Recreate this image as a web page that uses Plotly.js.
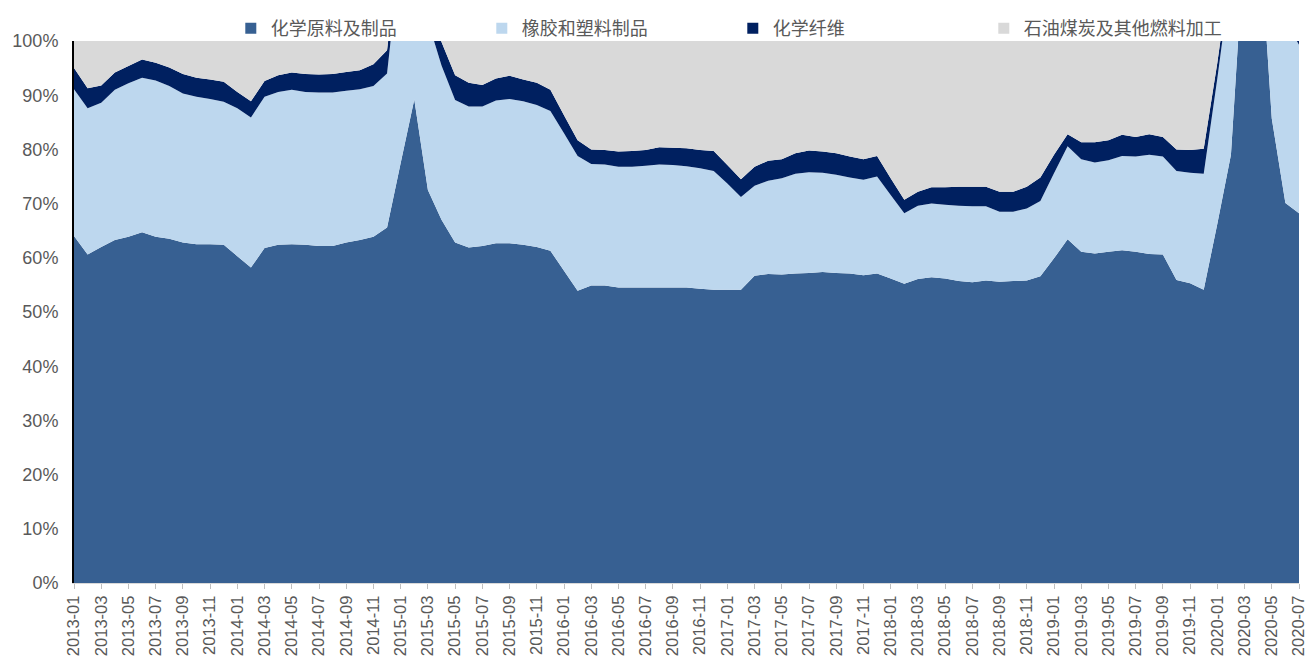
<!DOCTYPE html>
<html>
<head>
<meta charset="utf-8">
<script src="https://cdn.plot.ly/plotly-3.0.1.min.js"></script>
<style>html,body{margin:0;padding:0;background:#fff;}#chart{width:1308px;height:664px;}</style>
</head>
<body>
<div id="chart"></div>
<script>
const months = [
"2013-01","2013-02","2013-03","2013-04","2013-05","2013-06","2013-07","2013-08","2013-09","2013-10","2013-11","2013-12",
"2014-01","2014-02","2014-03","2014-04","2014-05","2014-06","2014-07","2014-08","2014-09","2014-10","2014-11","2014-12",
"2015-01","2015-02","2015-03","2015-04","2015-05","2015-06","2015-07","2015-08","2015-09","2015-10","2015-11","2015-12",
"2016-01","2016-02","2016-03","2016-04","2016-05","2016-06","2016-07","2016-08","2016-09","2016-10","2016-11","2016-12",
"2017-01","2017-02","2017-03","2017-04","2017-05","2017-06","2017-07","2017-08","2017-09","2017-10","2017-11","2017-12",
"2018-01","2018-02","2018-03","2018-04","2018-05","2018-06","2018-07","2018-08","2018-09","2018-10","2018-11","2018-12",
"2019-01","2019-02","2019-03","2019-04","2019-05","2019-06","2019-07","2019-08","2019-09","2019-10","2019-11","2019-12",
"2020-01","2020-02","2020-03","2020-04","2020-05","2020-06","2020-07"];

// 化学原料及制品
const chemRaw = [64.0,60.6,62.0,63.3,63.9,64.7,63.9,63.5,62.8,62.5,62.5,62.4,
60.3,58.2,61.8,62.4,62.5,62.4,62.2,62.2,62.8,63.3,63.9,65.6,
77.5,89.2,72.5,67.0,62.8,61.9,62.2,62.7,62.7,62.4,62.0,61.3,
57.6,53.9,54.9,54.9,54.5,54.5,54.5,54.5,54.5,54.5,54.3,54.1,
54.1,54.1,56.7,57.0,56.9,57.1,57.2,57.4,57.2,57.1,56.8,57.1,
56.2,55.2,56.1,56.4,56.2,55.7,55.5,55.8,55.6,55.7,55.8,56.6,
59.9,63.4,61.1,60.8,61.1,61.4,61.1,60.7,60.6,55.9,55.3,54.1,
66.3,79.0,119.0,124.0,85.7,70.1,68.2];
// 橡胶和塑料制品
const rubber = [27.1,27.0,26.6,27.7,28.3,28.5,28.8,28.2,27.5,27.2,26.8,26.4,
27.3,27.7,27.9,28.2,28.5,28.2,28.3,28.3,28.0,27.8,27.8,28.4,
39.5,20.8,31.2,28.5,26.3,26.0,25.7,26.3,26.6,26.5,26.2,25.8,
25.4,24.9,22.4,22.3,22.3,22.3,22.5,22.7,22.6,22.4,22.2,21.9,
19.6,17.1,16.6,17.2,17.8,18.4,18.6,18.3,18.1,17.7,17.6,17.9,
15.4,13.0,13.5,13.6,13.6,13.9,14.0,13.7,12.9,12.8,13.3,13.9,
15.7,17.2,17.1,16.8,16.9,17.4,17.6,18.3,18.1,20.1,20.4,21.4,
26.8,33.0,16.0,11.0,24.3,33.6,31.1];
// 化学纤维
const fiber = [3.9,3.7,3.2,3.2,3.2,3.4,3.3,3.4,3.6,3.5,3.6,3.7,
3.0,3.0,2.9,3.1,3.2,3.3,3.3,3.4,3.5,3.5,4.0,4.3,
3.0,3.0,3.3,4.3,4.6,4.4,4.0,4.1,4.3,4.0,4.1,3.9,
3.3,2.9,2.7,2.7,2.8,2.9,2.9,3.2,3.2,3.3,3.4,3.7,
3.4,3.3,3.5,3.7,3.5,3.8,4.0,3.9,4.0,3.9,3.8,3.8,
3.1,2.5,2.6,3.0,3.2,3.5,3.6,3.6,3.7,3.7,4.0,4.3,
3.4,2.2,3.1,3.7,3.7,3.9,3.6,3.8,3.6,4.0,4.2,4.6,
2.9,2.0,2.0,2.0,2.0,2.3,1.7];
// 石油煤炭及其他燃料加工
const petro = [5.0,8.7,8.2,5.8,4.6,3.4,4.0,4.9,6.1,6.8,7.1,7.5,
9.4,11.1,7.4,6.3,5.8,6.1,6.2,6.1,5.7,5.4,4.3,1.7,
-20.0,-13.0,-7.0,0.2,6.3,7.7,8.1,6.9,6.4,7.1,7.7,9.0,
13.7,18.3,20.0,20.1,20.4,20.3,20.1,19.6,19.7,19.8,20.1,20.3,
22.9,25.5,23.2,22.1,21.8,20.7,20.2,20.4,20.7,21.3,21.8,21.2,
25.3,29.3,27.8,27.0,27.0,26.9,26.9,26.9,27.8,27.8,26.9,25.2,
21.0,17.2,18.7,18.7,18.3,17.3,17.7,17.2,17.7,20.0,20.1,19.9,
4.0,-14.0,-37.0,-37.0,-12.0,-6.0,-1.0];

const seriesNames = ["化学原料及制品","橡胶和塑料制品","化学纤维","石油煤炭及其他燃料加工"];
const seriesColors = ["#376092","#bdd7ee","#002060","#d9d9d9"];
const seriesValues = [chemRaw, rubber, fiber, petro];

const tickLabels = months.filter((m, i) => i % 2 === 0);

const traces = [];
seriesValues.forEach((vals, k) => {
  traces.push({
    type: "scatter", x: months, y: vals, mode: "none",
    stackgroup: "one", fill: k === 0 ? "tozeroy" : "tonexty",
    fillcolor: seriesColors[k], name: seriesNames[k],
    showlegend: false, hoverinfo: "skip"
  });
});
seriesNames.forEach((n, k) => {
  traces.push({
    type: "scatter", x: [null], y: [null], mode: "markers", name: n,
    marker: {symbol: "square", size: 11, color: seriesColors[k]},
    showlegend: true, hoverinfo: "skip"
  });
});

const layout = {
  width: 1308, height: 664,
  margin: {l: 74, r: 9, t: 41, b: 81, pad: 0},
  paper_bgcolor: "#ffffff", plot_bgcolor: "#ffffff",
  showlegend: true,
  legend: {
    orientation: "h", x: 0.128, xanchor: "left", y: 0.989, yanchor: "bottom",
    entrywidth: 206, entrywidthmode: "pixels", itemwidth: 30,
    font: {family: "Noto Sans CJK SC, sans-serif", size: 18, color: "#595959"},
    bgcolor: "rgba(0,0,0,0)", traceorder: "normal"
  },
  xaxis: {
    type: "category", range: [0, 90], tickmode: "array",
    tickvals: tickLabels, ticktext: tickLabels, tickangle: -90,
    ticks: "outside", ticklen: 5, tickcolor: "#bfbfbf", tickwidth: 1,
    showline: true, linecolor: "#d9d9d9", linewidth: 1,
    showgrid: false, zeroline: false,
    tickfont: {family: "Liberation Sans, Arial, sans-serif", size: 16.5, color: "#595959"}
  },
  yaxis: {
    range: [0, 100], tickmode: "linear", tick0: 0, dtick: 10, ticksuffix: "%",
    showline: true, linecolor: "#000000", linewidth: 2,
    showgrid: false, zeroline: false, ticks: "", ticklabelstandoff: 10,
    tickfont: {family: "Liberation Sans, Arial, sans-serif", size: 18, color: "#595959"}
  }
};

Plotly.newPlot("chart", traces, layout, {displayModeBar: false, staticPlot: true});
</script>
</body>
</html>
